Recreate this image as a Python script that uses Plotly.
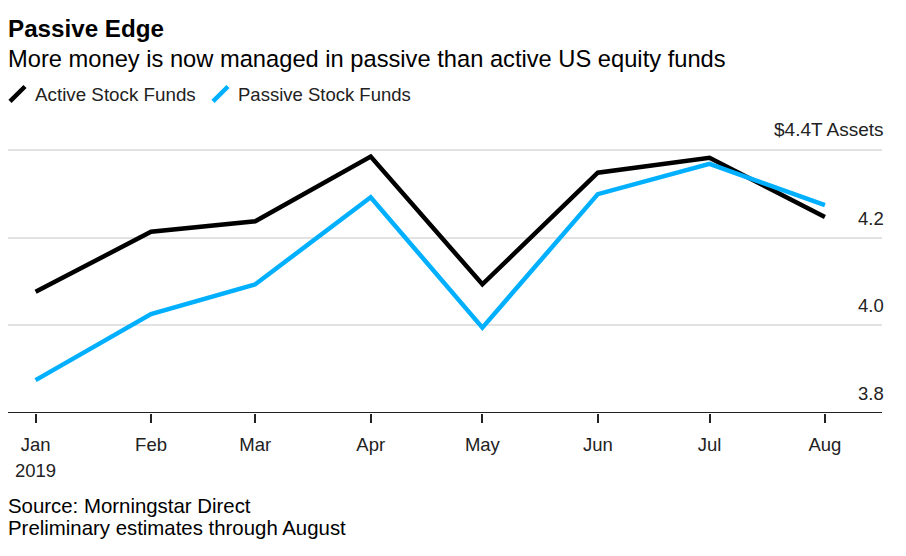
import plotly.graph_objects as go

months = ["2019-01-01", "2019-02-01", "2019-03-01", "2019-04-01",
          "2019-05-01", "2019-06-01", "2019-07-01", "2019-08-01"]
month_labels = ["Jan", "Feb", "Mar", "Apr", "May", "Jun", "Jul", "Aug"]
active = [4.077, 4.214, 4.238, 4.386, 4.094, 4.349, 4.383, 4.248]
passive = [3.875, 4.026, 4.094, 4.293, 3.995, 4.300, 4.369, 4.275]
y_ticks = [3.8, 4.0, 4.2, 4.4]
y_labels = ["3.8", "4.0", "4.2", "$4.4T Assets"]
y_range = [3.8, 4.41]
x_range = ["2018-12-24 14:00", "2019-08-16 08:00"]

FONT = "Liberation Sans, Arial, sans-serif"
BLACK = "#000000"
BLUE = "#00b0ff"
INK = "#222222"
OFF = 8  # the page body margin
W, H = 906 - OFF, 556 - OFF
L, R, T, B = 8 - OFF, 24, 145.6 - OFF, 143

fig = go.Figure()
fig.add_trace(go.Scatter(x=months, y=active, mode="lines", name="Active Stock Funds",
                         line=dict(color=BLACK, width=4.5), cliponaxis=False))
fig.add_trace(go.Scatter(x=months, y=passive, mode="lines", name="Passive Stock Funds",
                         line=dict(color=BLUE, width=4.5), cliponaxis=False))

def px(x):
    return (x - OFF - L) / (W - L - R)

def py(y):
    return (H - B - (y - OFF)) / (H - T - B)

def text(x, y, s, size, color=INK, anchor="left", bold=False):
    fig.add_annotation(xref="paper", yref="paper", x=px(x), y=py(y), text=f"<b>{s}</b>" if bold else s,
                       showarrow=False, xanchor=anchor, yanchor="middle",
                       font=dict(family=FONT, size=size, color=color), borderpad=0, borderwidth=0, align=anchor)

text(8, 28, "Passive Edge", 24.2, BLACK, bold=True)
text(8, 58, "More money is now managed in passive than active US equity funds", 23.7, BLACK)
text(35, 94, "Active Stock Funds", 18.8)
text(238, 94, "Passive Stock Funds", 18.5)

for (x0, color) in ((10, BLACK), (213, BLUE)):
    fig.add_shape(type="line", xref="paper", yref="paper", x0=px(x0), y0=py(101), x1=px(x0 + 15), y1=py(86),
                  line=dict(color=color, width=4.5))

for v, lab in zip(y_ticks, y_labels):
    top = v == y_ticks[-1]
    fig.add_annotation(xref="paper", yref="y", x=px(885), y=v, text=lab, showarrow=False,
                       xanchor="right", yanchor="bottom", yshift=9 if top else 8,
                       font=dict(family=FONT, size=19 if top else 18.5, color=INK), borderpad=0)

fig.add_annotation(xref="x", yref="paper", x=months[0], y=py(471), text="2019", showarrow=False,
                   xanchor="center", yanchor="middle", font=dict(family=FONT, size=18.5, color=INK), borderpad=0)

text(8, 506, "Source: Morningstar Direct", 20.4, BLACK)
text(8, 528, "Preliminary estimates through August", 20.4, BLACK)

fig.update_layout(
    width=W, height=H, showlegend=False,
    margin=dict(l=L, r=R, t=T, b=B, pad=0),
    paper_bgcolor="white", plot_bgcolor="white",
    font=dict(family=FONT, color=INK),
    xaxis=dict(type="date", range=x_range, tickvals=months, ticktext=month_labels,
               ticks="outside", ticklen=9, tickwidth=1.5, tickcolor=INK, ticklabelstandoff=6,
               showgrid=False, zeroline=False, showline=False,
               tickfont=dict(family=FONT, size=18.5, color=INK)),
    yaxis=dict(range=y_range, tickvals=y_ticks, showticklabels=False, ticks="",
               showgrid=True, gridcolor="#e2e2e2", gridwidth=2, zeroline=False, showline=False),
)
fig.add_shape(type="line", xref="paper", yref="y", x0=0, x1=1, y0=y_ticks[0], y1=y_ticks[0],
              line=dict(color="#222222", width=2), layer="above")
fig.write_html("out.html")
